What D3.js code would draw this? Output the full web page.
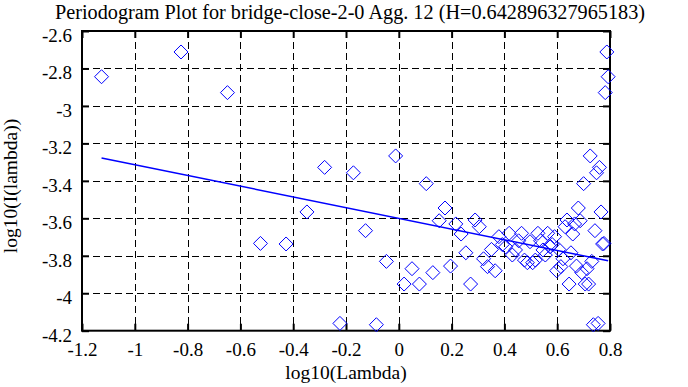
<!DOCTYPE html>
<html>
<head>
<meta charset="utf-8">
<script src="https://cdn.jsdelivr.net/npm/d3@7"></script>
<style>
  body { margin: 0; background: #fff; }
  svg text { font-family: "Liberation Serif", "Times New Roman", Times, "DejaVu Serif", serif !important; fill: #000; }
</style>
</head>
<body>
<div id="chart"></div>
<script>
"use strict";

var width = 688,
  height = 387;

// periodogram points, log10(lambda) vs log10(I(lambda))
var xVals = [
  -1.126, -0.825, -0.649, -0.524, -0.427, -0.348, -0.281, -0.223, -0.172, -0.126,
  -0.085, -0.047, -0.012, 0.020, 0.050, 0.078, 0.104, 0.129, 0.153, 0.175,
  0.196, 0.216, 0.236, 0.254, 0.272, 0.289, 0.305, 0.321, 0.336, 0.351,
  0.365, 0.379, 0.392, 0.405, 0.418, 0.430, 0.442, 0.454, 0.465, 0.476,
  0.487, 0.497, 0.507, 0.517, 0.527, 0.537, 0.546, 0.555, 0.564, 0.573,
  0.581, 0.590, 0.598, 0.606, 0.614, 0.622, 0.630, 0.637, 0.645, 0.652,
  0.659, 0.666, 0.673, 0.680, 0.687, 0.693, 0.700, 0.706, 0.713, 0.719,
  0.725, 0.731, 0.737, 0.743, 0.749, 0.755, 0.760, 0.766, 0.772, 0.777,
  0.782, 0.788, 0.793
];
var yVals = [
  -2.844, -2.712, -2.929, -3.734, -3.737, -3.566, -3.328, -4.161, -3.357, -3.666,
  -4.168, -3.830, -3.267, -3.951, -3.869, -3.951, -3.415, -3.890, -3.613, -3.545,
  -3.855, -3.630, -3.684, -3.784, -3.951, -3.609, -3.645, -3.816, -3.858, -3.766,
  -3.880, -3.698, -3.740, -3.752, -3.680, -3.796, -3.769, -3.720, -3.680, -3.823,
  -3.837, -3.725, -3.837, -3.823, -3.680, -3.720, -3.769, -3.796, -3.680, -3.752,
  -3.740, -3.698, -3.880, -3.766, -3.858, -3.816, -3.645, -3.609, -3.951, -3.784,
  -3.684, -3.630, -3.855, -3.545, -3.613, -3.890, -3.415, -3.951, -3.869, -3.951,
  -3.267, -3.830, -4.168, -3.666, -3.357, -4.161, -3.328, -3.566, -3.737, -3.734,
  -2.929, -2.712, -2.844
];

// least squares fit line end points
var fitX = [-1.126, 0.793];
var fitY = [-3.278, -3.827];

var xTicks = [-1.2, -1, -0.8, -0.6, -0.4, -0.2, 0, 0.2, 0.4, 0.6, 0.8];
var yTicks = [-4.2, -4, -3.8, -3.6, -3.4, -3.2, -3, -2.8, -2.6];

var titleText = "Periodogram Plot for bridge-close-2-0 Agg. 12 (H=0.642896327965183)";
var xLabel = "log10(Lambda)";
var yLabel = "log10(I(lambda))";

var plotLeft = 82, plotRight = 610, plotTop = 31, plotBottom = 330.7;
var serif = '"Liberation Serif", "Times New Roman", Times, "DejaVu Serif", serif';

var x = d3.scaleLinear().domain([-1.2, 0.8]).range([plotLeft, plotRight]);
var y = d3.scaleLinear().domain([-4.2, -2.6]).range([plotBottom, plotTop]);

var svg = d3
  .select("#chart")
  .append("svg")
  .attr("width", width)
  .attr("height", height)
  .attr("font-family", serif);

// dashed grid
svg
  .append("g")
  .selectAll("line")
  .data(xTicks.slice(1, -1))
  .enter()
  .append("line")
  .attr("x1", d => Math.round(x(d)) + 0.5)
  .attr("x2", d => Math.round(x(d)) + 0.5)
  .attr("y1", plotTop)
  .attr("y2", plotBottom)
  .attr("stroke", "#000")
  .attr("stroke-width", 1)
  .attr("stroke-dasharray", "7,4");

svg
  .append("g")
  .selectAll("line")
  .data(yTicks.slice(1, -1))
  .enter()
  .append("line")
  .attr("x1", plotLeft)
  .attr("x2", plotRight)
  .attr("y1", d => Math.round(y(d)) + 0.5)
  .attr("y2", d => Math.round(y(d)) + 0.5)
  .attr("stroke", "#000")
  .attr("stroke-width", 1)
  .attr("stroke-dasharray", "7,4");

// axes with inward ticks on all four sides
var tickLen = 7;
var xAxisBottom = d3.axisBottom(x).tickValues(xTicks).tickSize(-tickLen).tickFormat(d => String(d));
var xAxisTop = d3.axisTop(x).tickValues(xTicks).tickSize(-tickLen).tickFormat("");
var yAxisLeft = d3.axisLeft(y).tickValues(yTicks).tickSize(-tickLen).tickFormat(d => String(d));
var yAxisRight = d3.axisRight(y).tickValues(yTicks).tickSize(-tickLen).tickFormat("");

function styleAxis(g) {
  g.attr("font-family", serif).attr("font-size", 19);
  g.select(".domain").remove();
  g.selectAll(".tick line").attr("stroke", "#000").attr("stroke-width", 2);
  g.selectAll("text").attr("fill", "#000");
}

svg.append("g").attr("transform", "translate(0," + plotBottom + ")").call(xAxisBottom).call(styleAxis)
  .selectAll("text").attr("dy", "0.71em").attr("y", 12);
svg.append("g").attr("transform", "translate(0," + plotTop + ")").call(xAxisTop).call(styleAxis);
svg.append("g").attr("transform", "translate(" + plotLeft + ",0)").call(yAxisLeft).call(styleAxis)
  .selectAll("text").attr("dy", "0.55em").attr("x", -10);
svg.append("g").attr("transform", "translate(" + plotRight + ",0)").call(yAxisRight).call(styleAxis);

// border
svg
  .append("rect")
  .attr("x", plotLeft)
  .attr("y", plotTop)
  .attr("width", plotRight - plotLeft)
  .attr("height", plotBottom - plotTop)
  .attr("fill", "none")
  .attr("stroke", "#000")
  .attr("stroke-width", 2);

// diamonds
var diamond = "M0,-7L7,0L0,7L-7,0Z";
svg
  .append("g")
  .selectAll("path")
  .data(xVals.map((v, i) => ({ x: v, y: yVals[i] })))
  .enter()
  .append("path")
  .attr("d", diamond)
  .attr("transform", d => "translate(" + x(d.x) + "," + y(d.y) + ")")
  .attr("fill", "none")
  .attr("stroke", "#0000ff")
  .attr("stroke-width", 1);

// fit line
svg
  .append("path")
  .datum(fitX.map((v, i) => [v, fitY[i]]))
  .attr("d", d3.line().x(d => x(d[0])).y(d => y(d[1])))
  .attr("fill", "none")
  .attr("stroke", "#0000ff")
  .attr("stroke-width", 1.5);

// labels
svg
  .append("text")
  .attr("x", 350)
  .attr("y", 19)
  .attr("text-anchor", "middle")
  .attr("font-size", 20)
  .attr("textLength", 590)
  .attr("lengthAdjust", "spacingAndGlyphs")
  .text(titleText);

svg
  .append("text")
  .attr("x", 346)
  .attr("y", 379)
  .attr("text-anchor", "middle")
  .attr("font-size", 19.5)
  .text(xLabel);

svg
  .append("text")
  .attr("transform", "translate(17,186) rotate(-90)")
  .attr("text-anchor", "middle")
  .attr("font-size", 19.5)
  .text(yLabel);
</script>
</body>
</html>
